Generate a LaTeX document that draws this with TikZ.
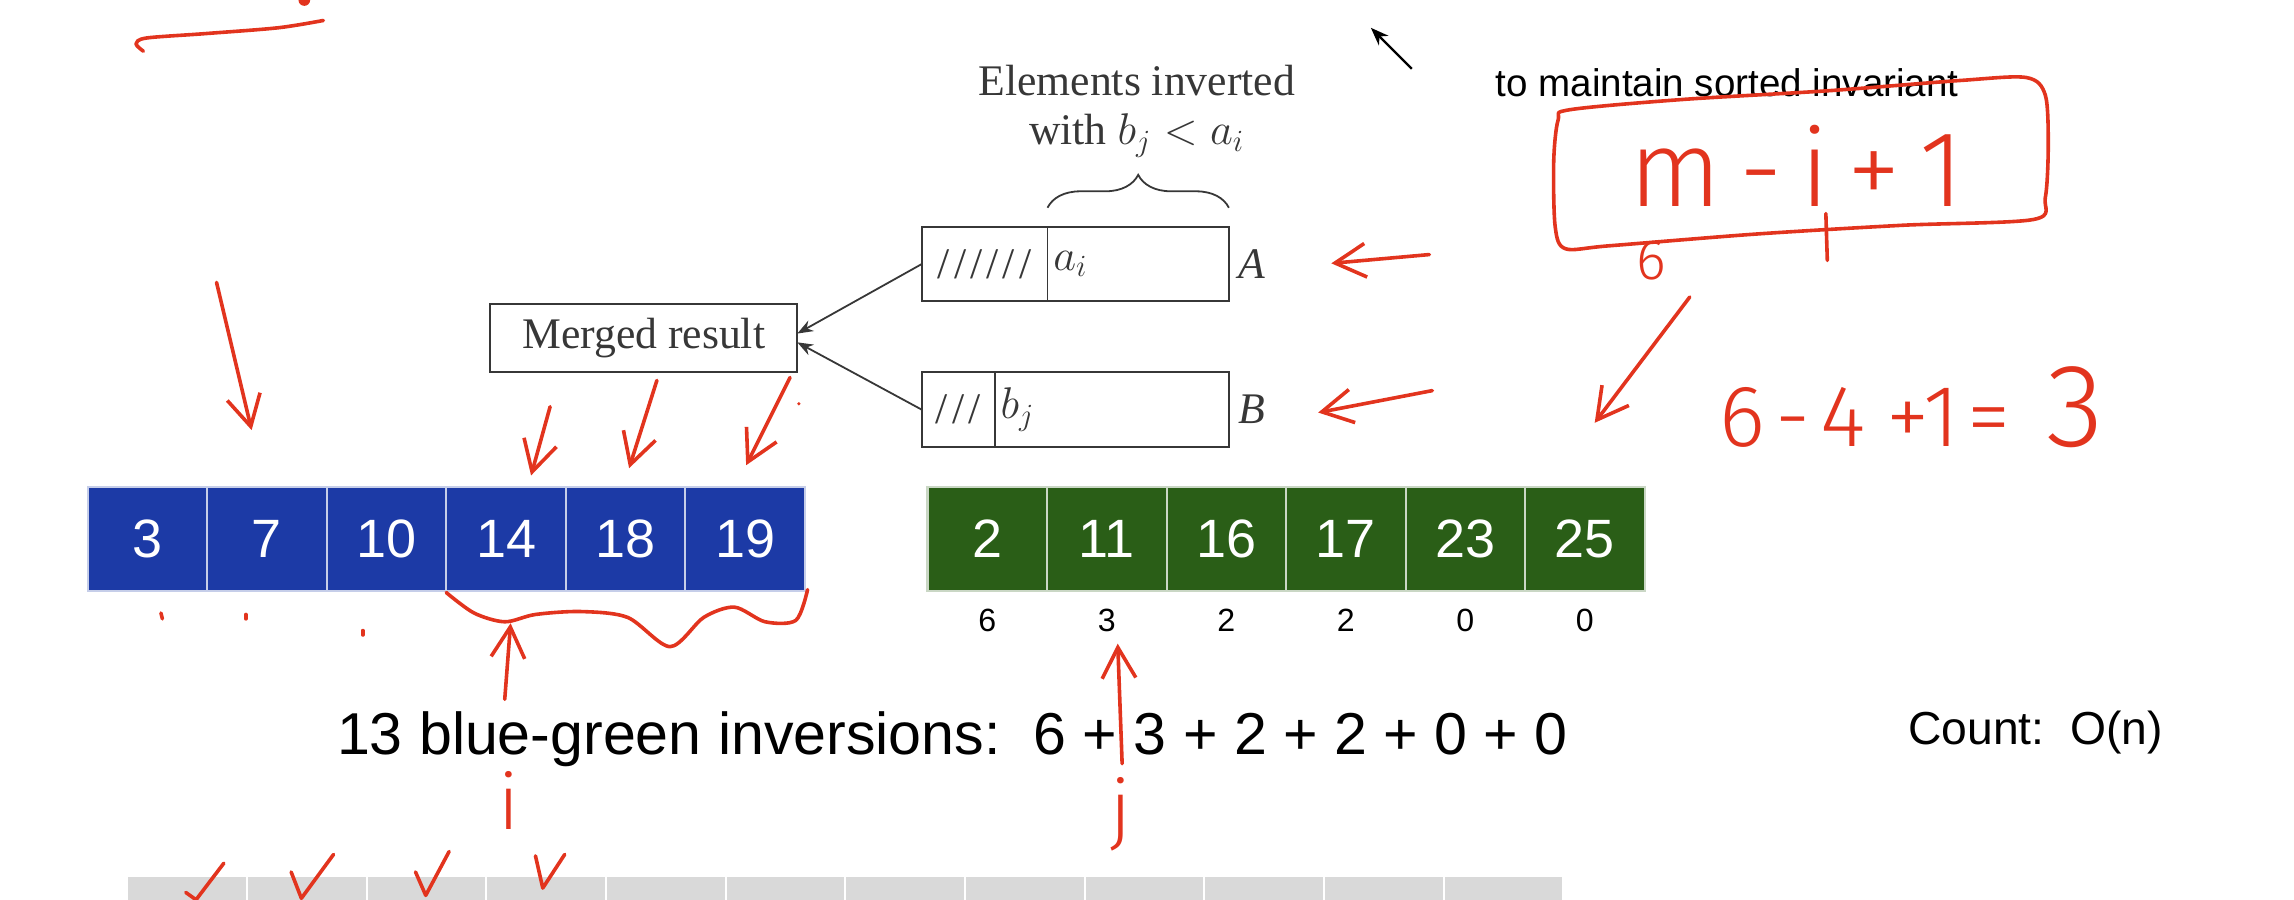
\documentclass[tikz,border=0pt]{standalone}
\usepackage{fontspec}
\setmainfont{Liberation Serif}
\setsansfont{Liberation Sans}
\newfontfamily\handfont{Fira Sans Light}
\usepackage{tikz}
\usetikzlibrary{arrows.meta, positioning, calc, decorations.pathreplacing}

\definecolor{slideblue}{RGB}{28,58,166}
\definecolor{slidegreen}{RGB}{42,94,23}
\definecolor{slidegray}{RGB}{217,217,217}
\definecolor{penred}{RGB}{226,52,30}
\definecolor{ink}{RGB}{55,55,55}

\tikzset{
  cell/.style={minimum width=1.634cm, minimum height=1.42cm, inner sep=0pt, line width=0.8pt,
    text=white, font=\sffamily\fontsize{21}{21}\selectfont},
  bluecell/.style={cell, fill=slideblue, draw=white!75!slideblue},
  greencell/.style={cell, fill=slidegreen, draw=white!75!slidegreen},
  graycell/.style={minimum width=1.636cm, minimum height=0.8cm, inner sep=0pt, fill=slidegray, draw=white, line width=0.8pt},
  cnt/.style={inner sep=0pt, font=\sffamily\fontsize{12.5}{14}\selectfont},
  slot/.style={draw=ink, line width=0.7pt, minimum height=1.02cm, inner sep=0pt, outer sep=0pt,
    text=ink, font=\fontsize{17}{20}\selectfont},
  redpen/.style={draw=penred, line width=1.4pt, line cap=round, line join=round},
  redarrow/.style={redpen, -{Straight Barb[length=0.42cm, width=0.46cm]}},
  hand/.style={text=penred, inner sep=0pt, font=\handfont\fontsize{#1}{#1}\selectfont}
}

\begin{document}
\begin{tikzpicture}[x=0.02cm, y=-0.02cm, >=Stealth]
  \useasboundingbox (0,0) rectangle (1568,615);
  \clip (0,0) rectangle (1568,615);

  % Left run (blue) and right run (green)
  \foreach \v [count=\k from 0] in {3,7,10,14,18,19}
    \node[bluecell] (left\k) at ({100.8+81.7*\k},368.5) {\v};
  \foreach \v [count=\k from 0] in {2,11,16,17,23,25}
    \node[greencell] (right\k) at ({674.8+81.7*\k},368.5) {\v};

  % Inversion counts under the green run
  \foreach \c [count=\k from 0] in {6,3,2,2,0,0}
    \node[cnt, below=0.22cm of right\k] (cnt\k) {\c};

  % Output array
  \foreach \k in {0,...,11}
    \node[graycell] (out\k) at ({127.9+81.8*\k},619) {};

  % Merge step: A, B and merged result
  \node[slot, minimum width=1.72cm] (hatchA) at (673,180.5) {/\kern1.6pt/\kern1.6pt/\kern1.6pt/\kern1.6pt/\kern1.6pt/};
  \node[slot, minimum width=2.48cm, text width=2.32cm, inner xsep=0.08cm, align=left, right=0pt of hatchA] (cellA) {$a_i$};
  \node[right=0.12cm of cellA, inner sep=0pt, text=ink, font=\itshape\fontsize{17}{20}\selectfont] (labA) {A};

  \node[slot, minimum width=1.0cm] (hatchB) at (655,280) {/\kern1.6pt/\kern1.6pt/};
  \node[slot, minimum width=3.2cm, text width=3.04cm, inner xsep=0.08cm, align=left, right=0pt of hatchB] (cellB) {$b_j$};
  \node[right=0.12cm of cellB, inner sep=0pt, text=ink, font=\itshape\fontsize{17}{20}\selectfont] (labB) {B};

  \node[slot, minimum width=4.2cm, minimum height=0.92cm] (merged) at (440,231) {Merged result};

  \draw[->, ink, line width=0.7pt] (hatchA.west) -- ([yshift=0.06cm]merged.east);
  \draw[->, ink, line width=0.7pt] (hatchB.west) -- ([yshift=-0.06cm]merged.east);

  % Brace over the inverted part
  \draw[ink, line width=0.7pt, decorate, decoration={brace, amplitude=0.45cm}]
    ([yshift=0.26cm]cellA.north west) -- ([yshift=0.26cm]cellA.north east);
  \node[text=ink, align=center, font=\fontsize{17}{19.3}\selectfont] (note) at (777,76) {Elements inverted\\with $b_j < a_i$};

  % Slide text
  \node[anchor=base west, inner sep=0pt, font=\sffamily\fontsize{15}{15}\selectfont] (keep) at (1022,66) {to maintain sorted invariant};
  \node[anchor=base west, inner sep=0pt, font=\sffamily\fontsize{23}{23}\selectfont] (total) at (230,516) {13 blue-green inversions:\ \ 6 + 3 + 2 + 2 + 0 + 0};
  \node[anchor=base west, inner sep=0pt, font=\sffamily\fontsize{18}{18}\selectfont] (cost) at (1304,509) {Count:\ \ O(n)};

  % Pointer
  \coordinate (ptr) at (965,47);
  \draw[->, line width=0.9pt] (ptr) -- ++(-28,-28);

  % Red annotations
  \draw[redpen] plot[smooth] coordinates {(98,35) (93,30) (100,26) (140,23) (190,19) (221,14)};
  \fill[penred] (208,0) circle (4);

  \draw[redarrow] (148,193) -- (172,294);
  \draw[redarrow] (376,278) -- (363,325);
  \draw[redarrow] (449,260) -- (430,320);
  \draw[redarrow] (540,258) -- (510,318);
  \fill[penred] (546,276) circle (1.2);

  \draw[redarrow] (977,174) -- (910,180);
  \draw[redarrow] (979,267) -- (901,282);

  \draw[redpen] plot[smooth cycle] coordinates {(1073,75) (1150,68) (1250,62) (1340,55) (1385,53) (1398,65)
    (1400,100) (1398,135) (1390,150) (1300,154) (1200,160) (1100,168) (1070,170) (1063,155) (1062,110) (1065,82)};
  \node[hand=42, anchor=base] (formula) at (1228,141) {m\,-\,i\,+\,1};
  \node[hand=22] (mval) at (1129,178) {6};
  \draw[redpen] (1248,146) -- (1249,178);
  \draw[redarrow] (1155,203) -- (1090,289);
  \node[hand=34, anchor=base west] (calc) at (1175,305)
    {6\hspace{4pt}-\hspace{4pt}4\hspace{8pt}+1\hspace{3pt}=\hspace{14pt}{\fontsize{46}{46}\selectfont 3}};

  \draw[redpen] plot[smooth] coordinates {(305,405) (324,419) (345,425) (366,420) (397,418) (429,422)
    (458,442) (481,422) (502,415) (523,425) (544,424) (552,403)};
  \draw[redpen] (110,419) -- (111,423);
  \draw[redpen] (168,420) -- (168,423);
  \draw[redpen] (248,431) -- (248,434);

  \draw[redarrow] (345,478) -- (349,426);
  \node[hand=30, anchor=base] (idx) at (348,567) {i};
  \draw[redarrow] (767,522) -- (764,440);
  \node[hand=30, anchor=base] (jdx) at (766,571) {j};

  \draw[redpen] (127,610) -- (134,615) -- (153,590);
  \draw[redpen] (199,596) -- (206,614) -- (228,584);
  \draw[redpen] (284,596) -- (291,612) -- (307,582);
  \draw[redpen] (366,585) -- (371,607) -- (386,584);
\end{tikzpicture}
\end{document}
